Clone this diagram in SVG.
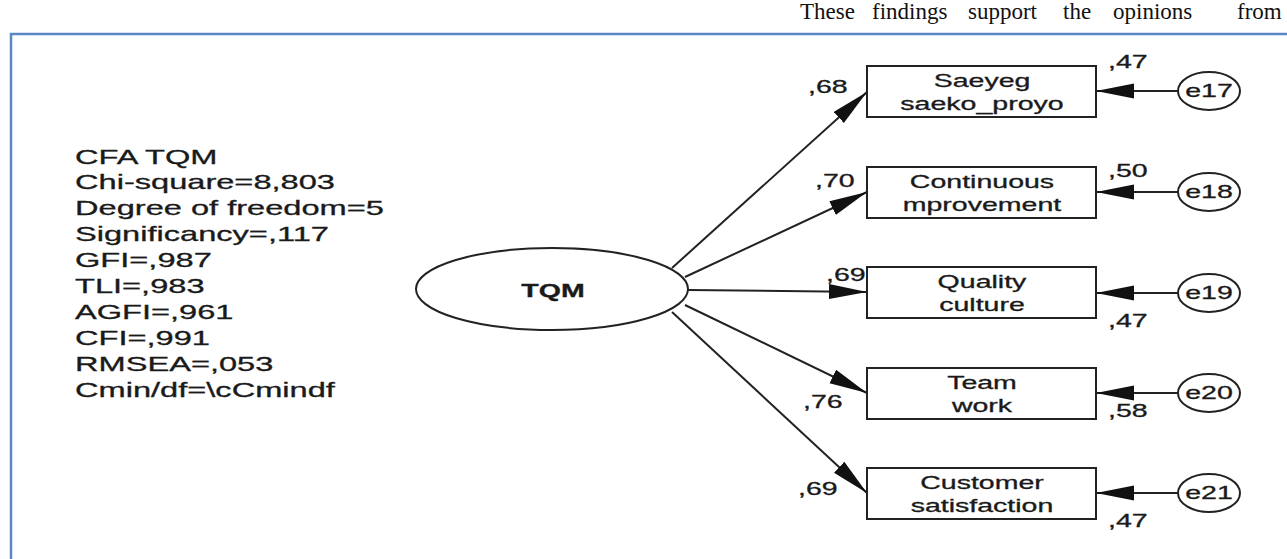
<svg xmlns="http://www.w3.org/2000/svg" width="1287" height="559" viewBox="0 0 1287 559">
<style>
.t{font-family:"Liberation Sans",Arial,sans-serif;font-size:17.5px;fill:#1a1a1a;stroke:#1a1a1a;stroke-width:0.3}
.st{font-family:"Liberation Sans",Arial,sans-serif;font-size:20px;fill:#1a1a1a;stroke:#1a1a1a;stroke-width:0.3}
.c{text-anchor:middle}
.box{fill:#fff;stroke:#222;stroke-width:2}
.ell{fill:#fff;stroke:#222;stroke-width:2}
.ln{stroke:#222;stroke-width:2;fill:none;marker-end:url(#ah)}
</style>
<defs>
<marker id="ah" markerUnits="userSpaceOnUse" markerWidth="40" markerHeight="16" refX="38" refY="7.5" orient="auto">
<path d="M0,0 L38,7.5 L0,15 Z" fill="#111"/>
</marker>
</defs>
<rect x="0" y="0" width="1287" height="559" fill="#fff"/>
<text font-family="Liberation Serif,Times New Roman,serif" font-size="23" fill="#111" y="19"><tspan x="800">These</tspan><tspan x="872">findings</tspan><tspan x="968">support</tspan><tspan x="1063">the</tspan><tspan x="1113">opinions</tspan><tspan x="1237">from</tspan></text>
<rect x="11" y="34" width="1400" height="600" fill="none" stroke="#5b87c5" stroke-width="2.5"/>
<g id="fit-stats">
<text class="st" transform="translate(75,164) scale(1.63,1)">CFA TQM</text>
<text class="st" transform="translate(75,189) scale(1.63,1)">Chi-square=8,803</text>
<text class="st" transform="translate(75,215) scale(1.63,1)">Degree of freedom=5</text>
<text class="st" transform="translate(75,241) scale(1.63,1)">Significancy=,117</text>
<text class="st" transform="translate(75,267) scale(1.63,1)">GFI=,987</text>
<text class="st" transform="translate(75,293) scale(1.63,1)">TLI=,983</text>
<text class="st" transform="translate(75,319) scale(1.63,1)">AGFI=,961</text>
<text class="st" transform="translate(75,345) scale(1.63,1)">CFI=,991</text>
<text class="st" transform="translate(75,371) scale(1.63,1)">RMSEA=,053</text>
<text class="st" transform="translate(75,397) scale(1.63,1)">Cmin/df=\cCmindf</text>
</g>
<g id="connectors">
<line class="ln" x1="672" y1="268" x2="867" y2="92"/>
<line class="ln" x1="685" y1="277" x2="867" y2="192"/>
<line class="ln" x1="688" y1="290" x2="867" y2="292"/>
<line class="ln" x1="685" y1="305" x2="867" y2="393"/>
<line class="ln" x1="672" y1="312" x2="867" y2="493"/>
<line class="ln" x1="1178" y1="91" x2="1096" y2="91"/>
<line class="ln" x1="1178" y1="192" x2="1096" y2="192"/>
<line class="ln" x1="1178" y1="293" x2="1096" y2="293"/>
<line class="ln" x1="1178" y1="393" x2="1096" y2="393"/>
<line class="ln" x1="1178" y1="493" x2="1096" y2="493"/>
</g>
<g id="TQM">
<ellipse class="ell" cx="552" cy="289" rx="136" ry="41"/>
<text class="t c" font-weight="bold" transform="translate(553,297) scale(1.63,1)">TQM</text>
</g>
<g id="box-saeyeg">
<rect class="box" x="867" y="66" width="229" height="51"/>
<text class="t c" transform="translate(982,87) scale(1.63,1)">Saeyeg</text>
<text class="t c" transform="translate(982,110) scale(1.63,1)">saeko_proyo</text>
</g>
<g id="box-continuous">
<rect class="box" x="867" y="167" width="229" height="51"/>
<text class="t c" transform="translate(982,188) scale(1.63,1)">Continuous</text>
<text class="t c" transform="translate(982,211) scale(1.63,1)">mprovement</text>
</g>
<g id="box-quality">
<rect class="box" x="867" y="267" width="229" height="51"/>
<text class="t c" transform="translate(982,288) scale(1.63,1)">Quality</text>
<text class="t c" transform="translate(982,311) scale(1.63,1)">culture</text>
</g>
<g id="box-team">
<rect class="box" x="867" y="368" width="229" height="51"/>
<text class="t c" transform="translate(982,389) scale(1.63,1)">Team</text>
<text class="t c" transform="translate(982,412) scale(1.63,1)">work</text>
</g>
<g id="box-customer">
<rect class="box" x="867" y="468" width="229" height="51"/>
<text class="t c" transform="translate(982,489) scale(1.63,1)">Customer</text>
<text class="t c" transform="translate(982,512) scale(1.63,1)">satisfaction</text>
</g>
<g id="e17"><ellipse class="ell" cx="1209" cy="91" rx="31" ry="19"/><text class="t c" transform="translate(1209,97) scale(1.63,1)">e17</text></g>
<g id="e18"><ellipse class="ell" cx="1209" cy="192" rx="31" ry="19"/><text class="t c" transform="translate(1209,198) scale(1.63,1)">e18</text></g>
<g id="e19"><ellipse class="ell" cx="1209" cy="293" rx="31" ry="19"/><text class="t c" transform="translate(1209,299) scale(1.63,1)">e19</text></g>
<g id="e20"><ellipse class="ell" cx="1209" cy="393" rx="31" ry="19"/><text class="t c" transform="translate(1209,399) scale(1.63,1)">e20</text></g>
<g id="e21"><ellipse class="ell" cx="1209" cy="493" rx="31" ry="19"/><text class="t c" transform="translate(1209,499) scale(1.63,1)">e21</text></g>
<g id="labels">
<text class="t" transform="translate(808,93) scale(1.63,1)">,68</text>
<text class="t" transform="translate(815,187) scale(1.63,1)">,70</text>
<text class="t" transform="translate(826,281) scale(1.63,1)">,69</text>
<text class="t" transform="translate(803,408) scale(1.63,1)">,76</text>
<text class="t" transform="translate(798,495) scale(1.63,1)">,69</text>
<text class="t" transform="translate(1108,68) scale(1.63,1)">,47</text>
<text class="t" transform="translate(1108,177) scale(1.63,1)">,50</text>
<text class="t" transform="translate(1108,327) scale(1.63,1)">,47</text>
<text class="t" transform="translate(1108,417) scale(1.63,1)">,58</text>
<text class="t" transform="translate(1108,527) scale(1.63,1)">,47</text>
</g>
</svg>
